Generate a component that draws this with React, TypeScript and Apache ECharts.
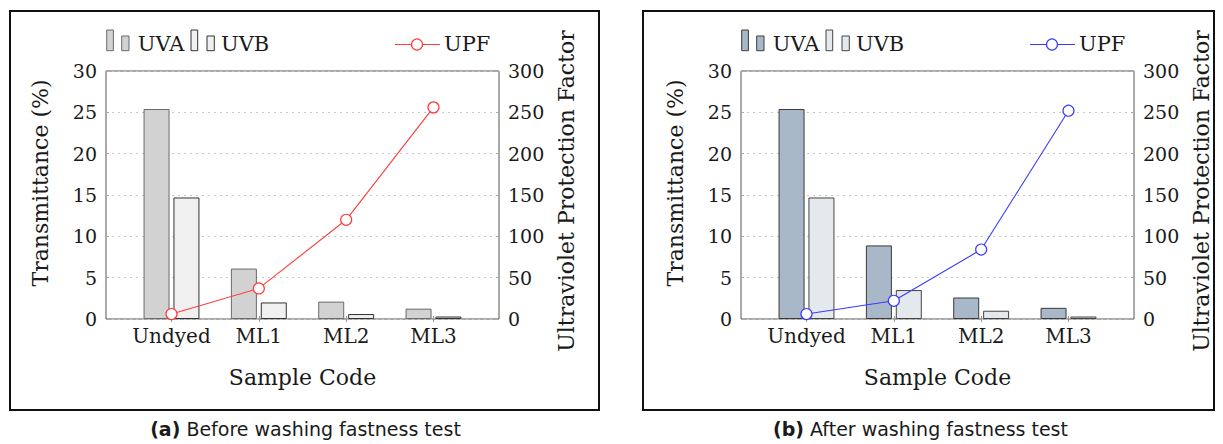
import React, { useEffect, useRef } from "react";
import * as echarts from "echarts";

const categories = ["Undyed", "ML1", "ML2", "ML3"];
const uvaBefore = [25.4, 6.1, 2.1, 1.25];
const uvbBefore = [14.7, 2.0, 0.6, 0.3];
const upfBefore = [6, 37, 120, 256];
const uvaAfter = [25.4, 8.9, 2.6, 1.35];
const uvbAfter = [14.7, 3.5, 1.0, 0.3];
const upfAfter = [6, 22, 84, 252];
const leftAxis = { min: 0, max: 30, step: 5 };
const rightAxis = { min: 0, max: 300, step: 50 };
const captions = ["Before washing fastness test", "After washing fastness test"];

const SERIF = "'DejaVu Serif', serif";
const SANS = "'DejaVu Sans', sans-serif";
const TXT = "#1a1a1a";

type Panel = {
  frame: [number, number, number, number];
  plotL: number;
  plotR: number;
  caption: string;
  tag: string;
  captionX: number;
  uva: number[];
  uvb: number[];
  upf: number[];
  uvaFill: string;
  uvaBorder: string;
  uvbFill: string;
  uvbBorder: string;
  lineColor: string;
};

const panels: Panel[] = [
  {
    frame: [10, 11, 589, 399],
    plotL: 106,
    plotR: 499,
    caption: captions[0],
    tag: "(a)",
    captionX: 305.5,
    uva: uvaBefore,
    uvb: uvbBefore,
    upf: upfBefore,
    uvaFill: "#d2d2d2",
    uvaBorder: "#6a6a6a",
    uvbFill: "#f0f0f0",
    uvbBorder: "#333333",
    lineColor: "#ff3a3a",
  },
  {
    frame: [643, 11, 571, 399],
    plotL: 741,
    plotR: 1134,
    caption: captions[1],
    tag: "(b)",
    captionX: 920.5,
    uva: uvaAfter,
    uvb: uvbAfter,
    upf: upfAfter,
    uvaFill: "#a8b8c8",
    uvaBorder: "#3a3a3a",
    uvbFill: "#e4e9ee",
    uvbBorder: "#444444",
    lineColor: "#3a3aff",
  },
];

const PLOT_TOP = 71;
const PLOT_H = 248;

function buildOption() {
  const grid: any[] = [];
  const xAxis: any[] = [];
  const yAxis: any[] = [];
  const series: any[] = [];
  const graphic: any[] = [];

  panels.forEach((p, i) => {
    const plotW = p.plotR - p.plotL;
    const band = plotW / 4.5;
    const g0 = i * 2;
    const g1 = i * 2 + 1;
    grid.push({
      left: p.plotL,
      top: PLOT_TOP,
      width: plotW,
      height: PLOT_H,
      show: true,
      borderColor: "#555",
      borderWidth: 1,
      backgroundColor: "transparent",
    });
    grid.push({
      left: p.plotL + band * 0.25,
      top: PLOT_TOP,
      width: band * 4,
      height: PLOT_H,
    });
    const xBase = xAxis.length;
    xAxis.push({ gridIndex: g0, type: "value", min: 0, max: 1, show: false });
    const tickStyle = { show: true, inside: true, alignWithLabel: true, interval: 0, length: 3, lineStyle: { color: "#999", width: 1 } };
    xAxis.push({
      gridIndex: g1,
      type: "category",
      data: categories,
      position: "bottom",
      axisLine: { show: false },
      axisTick: tickStyle,
      axisLabel: { interval: 0, margin: 7, fontSize: 20, fontFamily: SERIF, color: TXT },
      splitLine: { show: false },
    });
    xAxis.push({
      gridIndex: g1,
      type: "category",
      data: categories,
      position: "top",
      axisLine: { show: false },
      axisTick: tickStyle,
      axisLabel: { show: false },
      splitLine: { show: false },
    });
    const yBase = yAxis.length;
    yAxis.push({
      gridIndex: g0,
      type: "value",
      position: "left",
      min: leftAxis.min,
      max: leftAxis.max,
      interval: leftAxis.step,
      axisLine: { show: false },
      axisTick: { show: true, inside: true, length: 3, lineStyle: { color: "#aaa" } },
      axisLabel: { margin: 9, fontSize: 19, fontFamily: SERIF, color: TXT },
      splitLine: { show: true, lineStyle: { color: "#c8c8c8", type: [2, 4], width: 1 } },
    });
    yAxis.push({
      gridIndex: g0,
      type: "value",
      position: "right",
      min: rightAxis.min,
      max: rightAxis.max,
      interval: rightAxis.step,
      axisLine: { show: false },
      axisTick: { show: true, inside: true, length: 3, lineStyle: { color: "#aaa" } },
      axisLabel: { margin: 9, fontSize: 19, fontFamily: SERIF, color: TXT },
      splitLine: { show: false },
    });
    yAxis.push({ gridIndex: g1, type: "value", min: leftAxis.min, max: leftAxis.max, show: false, splitLine: { show: false } });
    yAxis.push({ gridIndex: g1, type: "value", min: rightAxis.min, max: rightAxis.max, show: false, splitLine: { show: false } });

    series.push({
      name: "UVA",
      type: "bar",
      xAxisIndex: xBase + 1,
      yAxisIndex: yBase + 2,
      data: p.uva,
      barWidth: 26,
      barGap: "15%",
      itemStyle: { color: p.uvaFill, borderColor: p.uvaBorder, borderWidth: 1 },
      z: 2,
    });
    series.push({
      name: "UVB",
      type: "bar",
      xAxisIndex: xBase + 1,
      yAxisIndex: yBase + 2,
      data: p.uvb,
      barWidth: 26,
      barGap: "15%",
      itemStyle: { color: p.uvbFill, borderColor: p.uvbBorder, borderWidth: 1 },
      z: 2,
    });
    series.push({
      name: "UPF",
      type: "line",
      xAxisIndex: xBase + 1,
      yAxisIndex: yBase + 3,
      data: p.upf,
      symbol: "circle",
      symbolSize: 11,
      lineStyle: { color: p.lineColor, width: 1.1 },
      itemStyle: { color: "#ffffff", borderColor: p.lineColor, borderWidth: 1.2 },
      z: 5,
    });

    const [fx, fy, fw, fh] = p.frame;
    graphic.push({
      type: "rect",
      shape: { x: fx, y: fy, width: fw, height: fh },
      style: { fill: "none", stroke: "#111", lineWidth: 2 },
      silent: true,
    });
    const L = p.plotL;
    const R = p.plotR;
    const sw = (x: number, y: number, w: number, h: number, fill: string, stroke: string) => ({
      type: "rect",
      shape: { x, y, width: w, height: h },
      style: { fill, stroke, lineWidth: 1 },
      silent: true,
    });
    graphic.push(sw(L + 0.7, 30, 6.7, 20.7, p.uvaFill, p.uvaBorder));
    graphic.push(sw(L + 15.7, 36, 7.3, 14.7, p.uvaFill, p.uvaBorder));
    graphic.push({
      type: "text",
      x: L + 31.7,
      y: 44,
      style: { text: "UVA", fontSize: 21, fontFamily: SERIF, fill: TXT, textAlign: "left", textVerticalAlign: "middle" },
    });
    graphic.push(sw(L + 85, 30, 6.7, 20.7, p.uvbFill, p.uvbBorder));
    graphic.push(sw(L + 101, 36, 7.3, 14.7, p.uvbFill, p.uvbBorder));
    graphic.push({
      type: "text",
      x: L + 115,
      y: 44,
      style: { text: "UVB", fontSize: 21, fontFamily: SERIF, fill: TXT, textAlign: "left", textVerticalAlign: "middle" },
    });
    graphic.push({
      type: "line",
      shape: { x1: R - 104, y1: 44.5, x2: R - 59, y2: 44.5 },
      style: { stroke: p.lineColor, lineWidth: 1.1 },
      silent: true,
    });
    graphic.push({
      type: "circle",
      shape: { cx: R - 82, cy: 44.5, r: 5.5 },
      style: { fill: "#fff", stroke: p.lineColor, lineWidth: 1.2 },
      silent: true,
    });
    graphic.push({
      type: "text",
      x: R - 55,
      y: 44,
      style: { text: "UPF", fontSize: 21, fontFamily: SERIF, fill: TXT, textAlign: "left", textVerticalAlign: "middle" },
    });
    graphic.push({
      type: "text",
      x: L - 66,
      y: 183,
      rotation: Math.PI / 2,
      style: { text: "Transmittance (%)", fontSize: 22, fontFamily: SERIF, fill: TXT, textAlign: "center", textVerticalAlign: "middle" },
    });
    graphic.push({
      type: "text",
      x: R + 67,
      y: 191,
      rotation: Math.PI / 2,
      style: { text: "Ultraviolet Protection Factor", fontSize: 22, fontFamily: SERIF, fill: TXT, textAlign: "center", textVerticalAlign: "middle" },
    });
    graphic.push({
      type: "text",
      x: (L + R) / 2,
      y: 377,
      style: { text: "Sample Code", fontSize: 22, fontFamily: SERIF, fill: TXT, textAlign: "center", textVerticalAlign: "middle" },
    });
    graphic.push({
      type: "text",
      x: p.captionX,
      y: 429,
      style: {
        text: "{b|" + p.tag + "} " + p.caption,
        fontSize: 19,
        fontFamily: SANS,
        fill: TXT,
        textAlign: "center",
        textVerticalAlign: "middle",
        rich: { b: { fontWeight: "bold", fontSize: 19, fontFamily: SANS, fill: TXT } },
      },
    });
  });

  return {
    animation: false,
    backgroundColor: "#ffffff",
    grid,
    xAxis,
    yAxis,
    series,
    graphic,
  };
}

export default function App() {
  const ref = useRef<HTMLDivElement>(null);
  useEffect(() => {
    if (!ref.current) return;
    const chart = echarts.init(ref.current, undefined, { renderer: "svg" });
    chart.setOption(buildOption() as any);
    return () => chart.dispose();
  }, []);
  return (
    <div
      ref={ref}
      style={{ position: "fixed", left: 0, top: 0, width: 1223, height: 444, background: "#fff" }}
    />
  );
}
